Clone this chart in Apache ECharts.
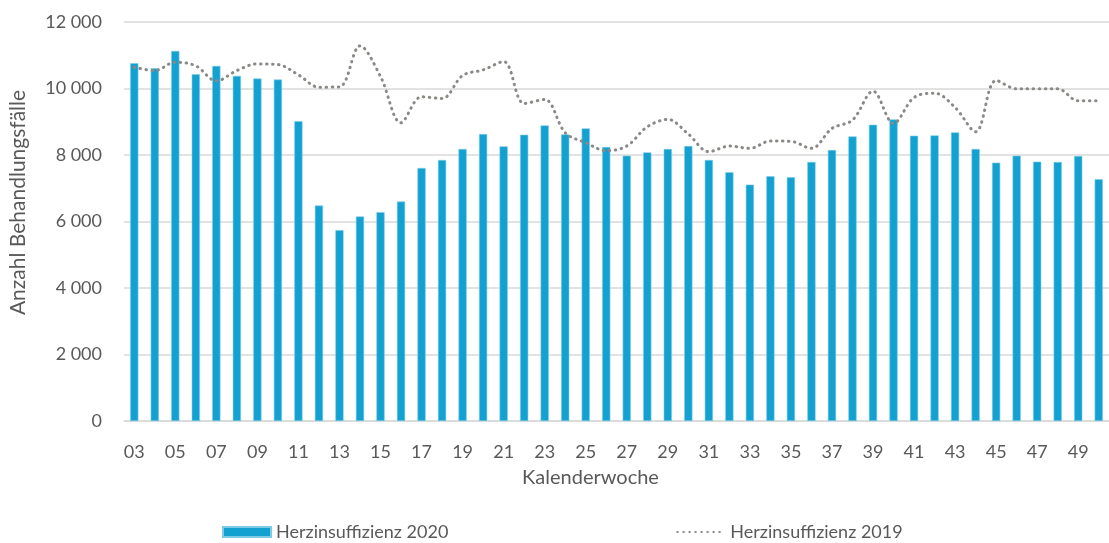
<!DOCTYPE html>
<html>
<head>
<meta charset="utf-8">
<script src="https://cdn.jsdelivr.net/npm/echarts@6/dist/echarts.min.js"></script>
<style>
  html, body { margin: 0; padding: 0; background: #fff; }
  #chart { width: 1109px; height: 543px; }
</style>
</head>
<body>
<div id="chart"></div>
<script>
// Kalenderwochen 03 - 50
var weeks = ['03','04','05','06','07','08','09','10','11','12','13','14','15','16','17','18',
    '19','20','21','22','23','24','25','26','27','28','29','30','31','32','33','34',
    '35','36','37','38','39','40','41','42','43','44','45','46','47','48','49','50'];

// Herzinsuffizienz 2020 (Balken)
var faelle2020 = [10760, 10610, 11130, 10430, 10680, 10380, 10300, 10270, 9020, 6480, 5740, 6150, 6280, 6600, 7610, 7850,
    8180, 8630, 8260, 8610, 8890, 8620, 8800, 8240, 7980, 8080, 8180, 8270, 7850, 7480, 7110, 7360,
    7330, 7790, 8150, 8560, 8910, 9070, 8580, 8590, 8680, 8180, 7770, 7980, 7800, 7790, 7970, 7270];

// Herzinsuffizienz 2019 (gepunktete Linie)
var faelle2019 = [10640, 10540, 10790, 10680, 10230, 10540, 10740, 10720, 10410, 10040, 10050, 11280, 10360, 8970, 9750, 9700,
    10390, 10560, 10810, 9550, 9670, 8670, 8370, 8130, 8270, 8850, 9070, 8630, 8100, 8270, 8200, 8420,
    8410, 8200, 8800, 9050, 9920, 8950, 9730, 9860, 9430, 8700, 10240, 9990, 9990, 9990, 9630, 9630];

var yTicks = { min: 0, max: 12000, interval: 2000 };

var textColor = '#595959';
var fontName = 'Lato';

var myChart = echarts.init(document.getElementById('chart'));

var option = {
    animation: false,
    textStyle: { fontFamily: fontName },
    grid: {
        left: 124,
        top: 22,
        width: 989,
        bottom: 122
    },
    legend: {
        top: 523,
        left: 222,
        padding: 0,
        itemGap: 228,
        itemWidth: 48,
        itemHeight: 10,
        textStyle: { color: textColor, fontSize: 18, fontFamily: fontName },
        data: [
            { name: 'Herzinsuffizienz 2020', icon: 'rect' },
            { name: 'Herzinsuffizienz 2019', itemStyle: { opacity: 0 } }
        ]
    },
    xAxis: {
        type: 'category',
        data: weeks,
        name: 'Kalenderwoche',
        nameLocation: 'middle',
        nameGap: 47,
        nameTextStyle: { color: textColor, fontSize: 20, padding: [0, 52, 0, 0] },
        axisLine: { lineStyle: { color: '#d9d9d9', width: 1.5 } },
        axisTick: { show: false },
        axisLabel: { color: textColor, fontSize: 18, interval: 1, margin: 22 }
    },
    yAxis: {
        type: 'value',
        min: yTicks.min,
        max: yTicks.max,
        interval: yTicks.interval,
        name: 'Anzahl Behandlungsfälle',
        nameLocation: 'middle',
        nameGap: 95,
        nameTextStyle: { color: textColor, fontSize: 21, padding: [0, 0, 0, 38] },
        axisLine: { show: false },
        axisTick: { show: false },
        splitLine: { lineStyle: { color: '#d9d9d9', width: 1.5 } },
        axisLabel: {
            color: textColor,
            fontSize: 18,
            margin: 22,
            formatter: function (v) {
                return String(v).replace(/\B(?=(\d{3})+(?!\d))/g, ' ');
            }
        }
    },
    series: [
        {
            name: 'Herzinsuffizienz 2020',
            type: 'bar',
            data: faelle2020,
            barWidth: '40%',
            itemStyle: { color: '#12a1d0', borderColor: '#7fcbe6', borderWidth: 0.6 }
        },
        {
            name: 'Herzinsuffizienz 2019',
            type: 'line',
            data: faelle2019,
            smooth: 0.35,
            symbol: 'none',
            lineStyle: { color: '#8a8985', width: 3, type: [0.5, 5.5], cap: 'round' },
            itemStyle: { color: '#8a8985' },
            z: 3
        }
    ]
};

myChart.setOption(option);
</script>
</body>
</html>
